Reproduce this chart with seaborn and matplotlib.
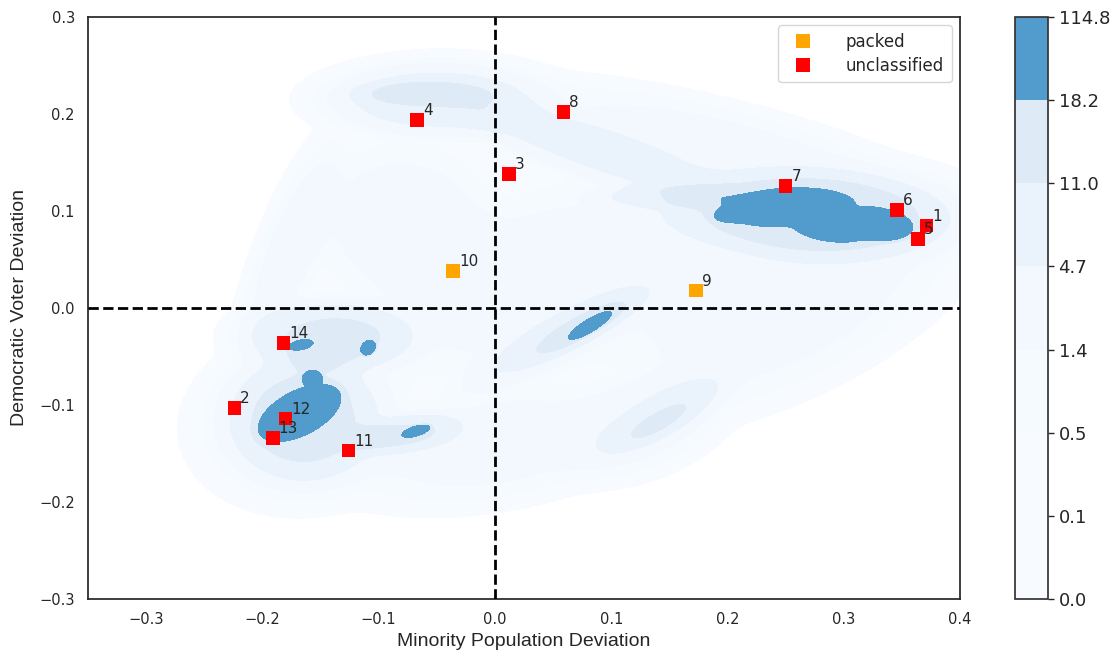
import numpy as np
import pandas as pd
import matplotlib
matplotlib.use("Agg")
import matplotlib.pyplot as plt
import seaborn as sns

# ---- district points ----
district_id = [1, 2, 3, 4, 5, 6, 7, 8, 9, 10, 11, 12, 13, 14]
minority_dev = [0.371, -0.224, 0.012, -0.067, 0.364, 0.346, 0.250, 0.059,
                0.173, -0.036, -0.126, -0.180, -0.191, -0.182]
democrat_dev = [0.085, -0.103, 0.138, 0.194, 0.071, 0.101, 0.126, 0.202,
                0.018, 0.038, -0.147, -0.114, -0.134, -0.036]
category = ["unclassified", "unclassified", "unclassified", "unclassified",
            "unclassified", "unclassified", "unclassified", "unclassified",
            "packed", "packed", "unclassified", "unclassified",
            "unclassified", "unclassified"]

# ---- density of the plan ensemble, built from flat topped clusters ----
comp_x = [-0.16, 0.0, 0.25, 0.12, 0.05, -0.175, -0.045, 0.2, 0.29, -0.08,   # base
          -0.14, -0.165, -0.078,                                             # left mid
          -0.168, -0.157, -0.167, -0.109, -0.068,                            # left dark
          0.268, 0.15, 0.25, 0.212, 0.328, 0.29,                             # right
          -0.05, -0.06, 0.08,                                                # top band
          0.06, 0.075, 0.082, 0.145, 0.141]                                  # centre
comp_y = [-0.115, -0.14, 0.0, -0.12, 0.03, 0.06, 0.214, 0.16, 0.09, 0.09,
          -0.03, -0.115, -0.13,
          -0.108, -0.073, -0.038, -0.041, -0.127,
          0.097, 0.115, 0.104, 0.099, 0.086, 0.084,
          0.215, 0.221, 0.165,
          -0.026, -0.02, -0.018, -0.11, -0.117]
comp_a = [0.067, 0.094, 0.12, 0.058, 0.129, 0.088, 0.070, 0.135, 0.082, 0.06,
          0.055, 0.05, 0.04,
          0.028, 0.006, 0.0073, 0.0055, 0.0087,
          0.096, 0.05, 0.036, 0.016, 0.022, 0.022,
          0.07, 0.046, 0.11,
          0.076, 0.043, 0.0147, 0.054, 0.024]
comp_b = [0.058, 0.041, 0.054, 0.035, 0.070, 0.020, 0.031, 0.032, 0.041, 0.06,
          0.028, 0.05, 0.015,
          0.0145, 0.006, 0.0033, 0.004, 0.0033,
          0.035, 0.01, 0.0125, 0.0065, 0.011, 0.010,
          0.026, 0.0105, 0.022,
          0.018, 0.010, 0.004, 0.018, 0.007]
comp_angle = [20, 12, 32, 25, 20, 72, 0, -17, 5, 0,
              0, 40, 10,
              35, 0, 15, 65, 20,
              -3, 0, 4, 12, -8, -10,
              0, 0, -22,
              33, 33, 37, 35, 35]
comp_peak = [2.2, 2.2, 2.2, 2.2, 2.2, 2.2, 2.2, 2.2, 2.2, 2.2,
             12, 12, 10,
             60, 60, 60, 60, 60,
             14, 5.5, 60, 60, 60, 60,
             5.5, 8, 5.5,
             5.5, 8, 60, 5.5, 8]

levels = [0.03, 0.1, 0.5, 1.4, 4.7, 11.0, 18.2, 114.8]

gx = np.linspace(-0.35, 0.4, 600)
gy = np.linspace(-0.3, 0.3, 480)
X, Y = np.meshgrid(gx, gy)
Z = np.zeros_like(X)
for cx, cy, a, b, ang, pk in zip(comp_x, comp_y, comp_a, comp_b, comp_angle, comp_peak):
    t = np.deg2rad(ang)
    dx, dy = X - cx, Y - cy
    u = dx * np.cos(t) + dy * np.sin(t)
    v = -dx * np.sin(t) + dy * np.cos(t)
    Z += pk * np.exp(-0.5 * ((u / a) ** 2 + (v / b) ** 2) ** 2)
Z = np.minimum(Z, levels[-1])

df = pd.DataFrame({"x": minority_dev, "y": democrat_dev, "cat": category, "id": district_id})

sns.set_theme(style="white")
plt.rcParams["font.family"] = ["DejaVu Sans"]

fig = plt.figure(figsize=(11.18, 6.58), dpi=100)
ax = fig.add_axes([0.0787, 0.0897, 0.780, 0.8845])
cax = fig.add_axes([0.908, 0.0897, 0.0295, 0.8845])

cs = ax.contourf(X, Y, Z, levels=levels, cmap="Blues")
cb = fig.colorbar(cs, cax=cax, format="%.1f")
cb.ax.tick_params(labelsize=13, length=4, width=1)
cb.outline.set_edgecolor("#333333")

ax.axvline(0, color="black", ls="--", lw=2, zorder=3)
ax.axhline(0, color="black", ls="--", lw=2, zorder=3)

sns.scatterplot(data=df, x="x", y="y", hue="cat", hue_order=["packed", "unclassified"],
                palette={"packed": "orange", "unclassified": "red"}, marker="s",
                s=95, linewidth=0, ax=ax, zorder=4)
for _, r in df.iterrows():
    ax.text(r["x"] + 0.005, r["y"] + 0.005, str(r["id"]), fontsize=11,
            color="#262626", zorder=5)

ax.set_xlim(-0.35, 0.4)
ax.set_ylim(-0.3, 0.3)
ax.set_xticks(np.arange(-0.3, 0.41, 0.1))
ax.set_yticks(np.arange(-0.3, 0.31, 0.1))
ax.tick_params(labelsize=10.5)
ax.set_xlabel("Minority Population Deviation", fontsize=14, family="Liberation Sans")
ax.set_ylabel("Democratic Voter Deviation", fontsize=14, family="Liberation Sans",
              labelpad=8)
sns.move_legend(ax, "upper right", title=None, fontsize=12, handletextpad=1.6,
                borderpad=0.45, labelspacing=0.35, frameon=True)

fig.savefig("out.png", dpi=100)
